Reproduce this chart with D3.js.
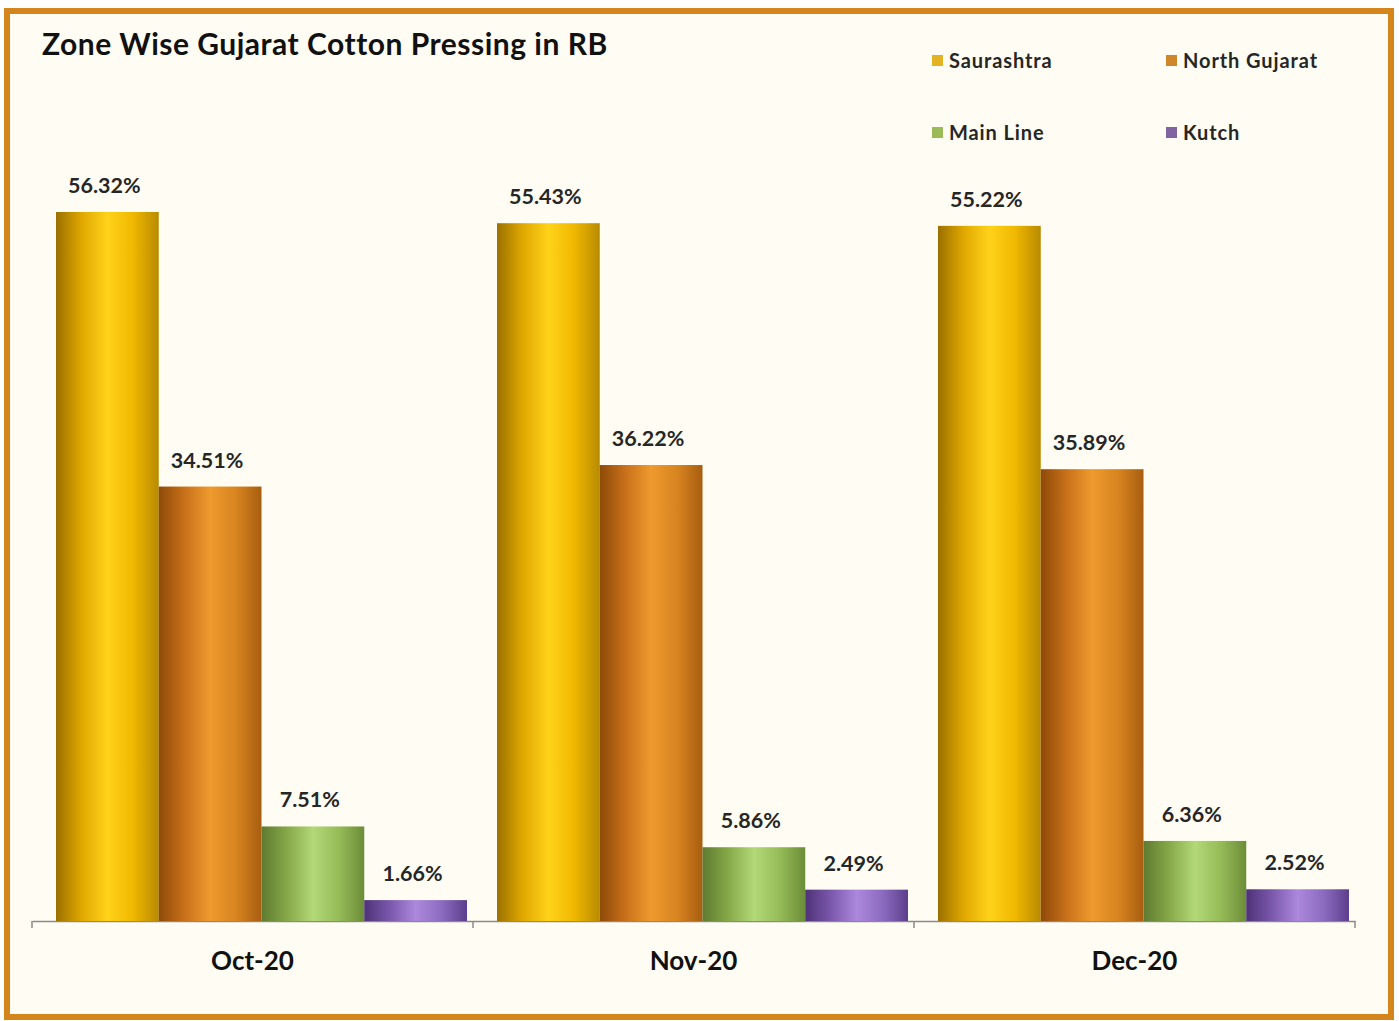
<!DOCTYPE html>
<html><head><meta charset="utf-8">
<script src="https://cdn.jsdelivr.net/npm/d3@7"></script>
<style>body{margin:0;background:#fff;}svg{display:block;}</style>
</head><body>
<svg id="c" width="1399" height="1021"></svg>
<script>
const months = ["Oct-20", "Nov-20", "Dec-20"];
const zones = ["Saurashtra", "North Gujarat", "Main Line", "Kutch"];
const saurashtra = [56.32, 55.43, 55.22];
const northGujarat = [34.51, 36.22, 35.89];
const mainLine = [7.51, 5.86, 6.36];
const kutch = [1.66, 2.49, 2.52];
const seriesValues = [saurashtra, northGujarat, mainLine, kutch];
const legendColors = ["#E2B424", "#D0862A", "#9BBB59", "#8064A2"];
const gradStops = [
  ["#9A7000", "#E0A800", "#FFD21A", "#F0B800", "#B88A00"],
  ["#8E4A08", "#C8701A", "#EE9A2E", "#D88420", "#A85E10"],
  ["#5E7A30", "#86A848", "#B2D878", "#96BC58", "#6C8C38"],
  ["#4E3278", "#7A58AC", "#AC88DC", "#8C6CC0", "#5C3E8C"]
];

const svg = d3.select("#c");
svg.append("rect").attr("x", 0).attr("y", 0).attr("width", 1399).attr("height", 1021).attr("fill", "#fff");
svg.append("rect").attr("x", 7).attr("y", 11).attr("width", 1384).attr("height", 1006)
  .attr("fill", "#FFFDF3").attr("stroke", "#D4861C").attr("stroke-width", 6);

const defs = svg.append("defs");
gradStops.forEach((stops, i) => {
  const g = defs.append("linearGradient").attr("id", "g" + i)
    .attr("x1", "0%").attr("x2", "100%").attr("y1", "0%").attr("y2", "0%");
  const offs = [0, 0.25, 0.5, 0.75, 1];
  stops.forEach((c, j) => g.append("stop").attr("offset", offs[j]).attr("stop-color", c));
});

const font = "Lato, 'Open Sans', sans-serif";
const baseY = 921;
const x0 = d3.scaleBand().domain(months).range([32, 1355]).padding(0);
const y = d3.scaleLinear().domain([0, 56.32]).range([baseY, 212]);
const x1 = d3.scaleBand().domain(zones).range([24, 24 + 411]).padding(0);

// axis
const axis = d3.axisBottom(x0).tickSize(0).tickFormat("");
const ag = svg.append("g").attr("transform", `translate(0,${baseY})`).call(axis);
ag.select(".domain").attr("stroke", "#8a8a8a").attr("stroke-width", 1.5);
const bounds = [32, x0("Nov-20"), x0("Dec-20"), 1355];
svg.selectAll("line.tk").data(bounds).enter().append("line")
  .attr("x1", d => d).attr("x2", d => d).attr("y1", baseY).attr("y2", baseY + 7)
  .attr("stroke", "#8a8a8a").attr("stroke-width", 1.5);

// bars
months.forEach((m, mi) => {
  const g = svg.append("g").attr("transform", `translate(${x0(m)},0)`);
  zones.forEach((z, zi) => {
    const v = seriesValues[zi][mi];
    g.append("rect").attr("x", x1(z)).attr("y", y(v)).attr("width", x1.bandwidth())
      .attr("height", baseY - y(v)).attr("fill", `url(#g${zi})`);
    g.append("text").attr("x", x1(z) + x1.bandwidth() / 2 - 3).attr("y", y(v) - 19)
      .attr("text-anchor", "middle").attr("font-family", font).attr("font-weight", "bold")
      .attr("font-size", 21.5).attr("fill", "#262626").text(v.toFixed(2) + "%");
  });
  svg.append("text").attr("x", x0(m) + x0.bandwidth() / 2).attr("y", 970)
    .attr("text-anchor", "middle").attr("font-family", font).attr("font-weight", "bold")
    .attr("font-size", 26).attr("fill", "#111").text(m);
});

// title
svg.append("text").attr("x", 42).attr("y", 55).attr("font-family", font).attr("font-weight", "bold")
  .attr("font-size", 30).attr("letter-spacing", 0.5).attr("fill", "#111").text("Zone Wise Gujarat Cotton Pressing in RB");

// legend
const legPos = [[932, 61], [1166, 61], [932, 133], [1166, 133]];
zones.forEach((z, i) => {
  const [lx, ly] = legPos[i];
  svg.append("rect").attr("x", lx).attr("y", ly - 6).attr("width", 11).attr("height", 11).attr("fill", legendColors[i]);
  svg.append("text").attr("x", lx + 17).attr("y", ly + 7).attr("font-family", font).attr("font-weight", "bold")
    .attr("font-size", 20).attr("letter-spacing", 0.9).attr("fill", "#262626").text(z);
});
</script>
</body></html>
